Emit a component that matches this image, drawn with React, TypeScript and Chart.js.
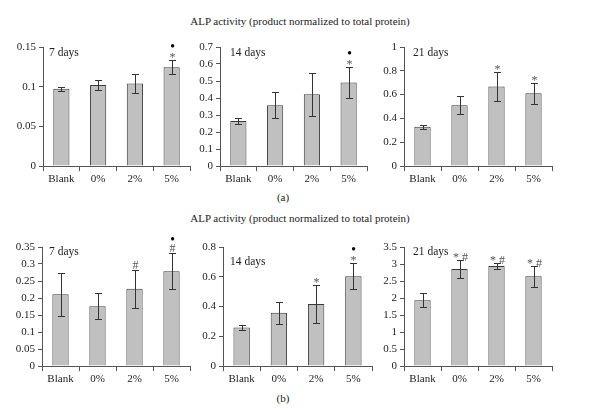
import React, { useEffect, useRef } from "react";
import { Chart, registerables } from "chart.js";

Chart.register(...registerables);

const FONT = "'Liberation Serif', 'Times New Roman', serif";

const categories = ["Blank", "0%", "2%", "5%"];
const chartTitle = "ALP activity (product normalized to total protein)";

// Row (a)
const a7Values = [0.0975, 0.102, 0.104, 0.1246];
const a7Errors = [0.0027, 0.0065, 0.012, 0.009];
const a7Marks = [[], [], [], ["*", "•"]];

const a14Values = [0.264, 0.357, 0.422, 0.491];
const a14Errors = [0.018, 0.077, 0.127, 0.089];
const a14Marks = [[], [], [], ["*", "•"]];

const a21Values = [0.33, 0.51, 0.668, 0.611];
const a21Errors = [0.018, 0.075, 0.124, 0.089];
const a21Marks = [[], [], ["*"], ["*"]];

// Row (b)
const b7Values = [0.211, 0.176, 0.227, 0.279];
const b7Errors = [0.063, 0.039, 0.056, 0.052];
const b7Marks = [[], [], ["#"], ["#", "•"]];

const b14Values = [0.259, 0.358, 0.417, 0.604];
const b14Errors = [0.018, 0.074, 0.126, 0.088];
const b14Marks = [[], [], ["*"], ["*", "•"]];

const b21Values = [1.933, 2.85, 2.94, 2.64];
const b21Errors = [0.2, 0.27, 0.08, 0.31];
const b21Marks = [[], ["* #"], ["* #"], ["* #"]];

type PanelDef = {
  values: number[];
  errors: number[];
  marks: string[][];
  yMax: number;
  yStep: number;
  day: string;
  box: [number, number, number, number];
  dayOff: [number, number];
};

const panels: PanelDef[] = [
  { values: a7Values, errors: a7Errors, marks: a7Marks, yMax: 0.15, yStep: 0.05, day: "7 days", box: [43, 190, 47, 166], dayOff: [6, 6] },
  { values: a14Values, errors: a14Errors, marks: a14Marks, yMax: 0.7, yStep: 0.1, day: "14 days", box: [220, 367, 47, 166], dayOff: [10, 6] },
  { values: a21Values, errors: a21Errors, marks: a21Marks, yMax: 1, yStep: 0.2, day: "21 days", box: [404, 552, 47, 166], dayOff: [9, 6] },
  { values: b7Values, errors: b7Errors, marks: b7Marks, yMax: 0.35, yStep: 0.05, day: "7 days", box: [42, 190, 247, 366], dayOff: [7, 5] },
  { values: b14Values, errors: b14Errors, marks: b14Marks, yMax: 0.8, yStep: 0.2, day: "14 days", box: [223, 372, 247, 366], dayOff: [7, 15] },
  { values: b21Values, errors: b21Errors, marks: b21Marks, yMax: 3.5, yStep: 0.5, day: "21 days", box: [404, 552, 247, 366], dayOff: [9, 5] },
];

const AXIS_W = 45;
const AXIS_H = 30;
const PAD_TOP = 14;
const PAD_RIGHT = 6;

const errorPlugin = {
  id: "errorBars",
  afterDatasetsDraw(chart: any, _args: any, opts: any) {
    const ctx = chart.ctx;
    const meta = chart.getDatasetMeta(0);
    const ys = chart.scales.y;
    const vals = chart.data.datasets[0].data as number[];
    ctx.save();
    meta.data.forEach((bar: any, i: number) => {
      const v = vals[i];
      const e = opts.errors[i];
      const x = Math.round(bar.x) + 0.5;
      const yt = Math.round(ys.getPixelForValue(v + e)) + 0.5;
      const yb = Math.round(ys.getPixelForValue(v - e)) + 0.5;
      ctx.strokeStyle = "#333";
      ctx.lineWidth = 1;
      ctx.beginPath();
      ctx.moveTo(x, yt);
      ctx.lineTo(x, yb);
      ctx.moveTo(x - 3.5, yt);
      ctx.lineTo(x + 3.5, yt);
      ctx.moveTo(x - 3.5, yb);
      ctx.lineTo(x + 3.5, yb);
      ctx.stroke();
      const lines: string[] = opts.marks[i] || [];
      ctx.textAlign = "center";
      ctx.textBaseline = "middle";
      lines.forEach((t, k) => {
        const isDot = t === "•";
        ctx.fillStyle = isDot ? "#000" : "#555";
        ctx.font = isDot ? `bold 12px ${FONT}` : `12px ${FONT}`;
        const off = t.indexOf("*") >= 0 ? 2 : 0;
        ctx.fillText(t, x, yt - 5 - k * 9 + off);
      });
    });
    const ca = chart.chartArea;
    ctx.fillStyle = "#222";
    ctx.font = `11.5px ${FONT}`;
    ctx.textAlign = "left";
    ctx.textBaseline = "middle";
    ctx.fillText(opts.day, ca.left + opts.dayOff[0], ca.top + opts.dayOff[1]);
    ctx.restore();
  },
};

const fmt = (v: any) => String(parseFloat(Number(v).toFixed(4)));

function Panel({ p }: { p: PanelDef }) {
  const ref = useRef<HTMLCanvasElement>(null);
  const [x0, x1, y0, y1] = p.box;
  const left = x0 - AXIS_W;
  const top = y0 - PAD_TOP;
  const width = x1 - left + PAD_RIGHT;
  const height = y1 + AXIS_H - top;
  useEffect(() => {
    const chart = new Chart(ref.current as HTMLCanvasElement, {
      type: "bar",
      data: {
        labels: categories,
        datasets: [
          {
            data: p.values,
            backgroundColor: "#c0c0c0",
            borderColor: "#3a3a3a",
            borderWidth: 1,
            barPercentage: 0.44,
            categoryPercentage: 1,
          },
        ],
      },
      options: {
        animation: false,
        responsive: false,
        maintainAspectRatio: false,
        devicePixelRatio: 1,
        layout: { padding: { top: PAD_TOP, right: PAD_RIGHT, left: 0, bottom: 0 } },
        plugins: {
          legend: { display: false },
          tooltip: { enabled: false },
          title: { display: false },
          errorBars: { errors: p.errors, marks: p.marks, day: p.day, dayOff: p.dayOff },
        } as any,
        scales: {
          x: {
            grid: { offset: true, drawOnChartArea: false, drawTicks: true, tickLength: 5, color: "#555" },
            border: { color: "#555" },
            ticks: { font: { family: FONT, size: 11 }, color: "#222", padding: 2 },
            afterFit: (s: any) => {
              s.height = AXIS_H;
            },
          },
          y: {
            min: 0,
            max: p.yMax,
            ticks: {
              stepSize: p.yStep,
              font: { family: FONT, size: 11 },
              color: "#222",
              padding: 3,
              callback: (v: any) => fmt(v),
            },
            grid: { drawOnChartArea: false, drawTicks: true, tickLength: 4, color: "#555" },
            border: { color: "#555" },
            afterFit: (s: any) => {
              s.width = AXIS_W;
            },
          },
        },
      } as any,
      plugins: [errorPlugin as any],
    });
    return () => chart.destroy();
  }, []);
  return (
    <canvas
      ref={ref}
      width={width}
      height={height}
      style={{ position: "absolute", left, top, width, height }}
    />
  );
}

const textStyle = (x: number, y: number): React.CSSProperties => ({
  position: "absolute",
  left: x,
  top: y,
  transform: "translate(-50%, -50%)",
  fontFamily: FONT,
  fontSize: 11,
  color: "#222",
  whiteSpace: "nowrap",
  lineHeight: "12px",
});

export default function App() {
  return (
    <div
      style={{
        position: "fixed",
        left: 0,
        top: 0,
        width: 590,
        height: 408,
        background: "#fff",
        overflow: "hidden",
      }}
    >
      <div style={textStyle(300, 21)}>{chartTitle}</div>
      <div style={textStyle(283, 197)}>(a)</div>
      <div style={textStyle(300, 218)}>{chartTitle}</div>
      <div style={textStyle(283, 398)}>(b)</div>
      {panels.map((p, i) => (
        <Panel key={i} p={p} />
      ))}
    </div>
  );
}
